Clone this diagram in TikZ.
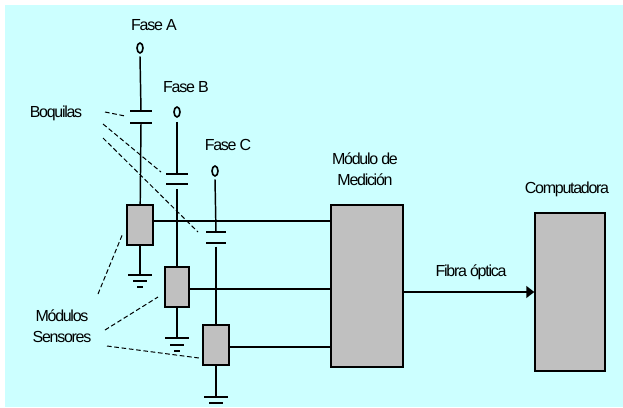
\documentclass[tikz,border=0pt]{standalone}
\usepackage{fontspec}
\setmainfont{Liberation Sans}
\usetikzlibrary{shapes.geometric, arrows.meta}
\definecolor{fondo}{RGB}{204,255,255}
\definecolor{modulo}{RGB}{192,192,192}

\begin{document}
\begin{tikzpicture}[
    x=0.75pt, y=-0.75pt,
    etiqueta/.style={inner sep=0pt, align=center, font=\fontsize{12}{16}\selectfont\addfontfeatures{LetterSpace=-8}},
    sensor/.style={rectangle, draw, line width=1.1pt, fill=modulo, inner sep=0pt, minimum width=19.5pt, minimum height=30pt},
    bloque/.style={sensor, minimum width=54pt, minimum height=121.5pt},
    terminal/.style={ellipse, draw, line width=1.2pt, inner sep=0pt, minimum width=4.5pt, minimum height=7.5pt},
    placa/.style={rectangle, fill=black, inner sep=0pt, minimum height=1.1pt, minimum width=16.5pt},
    wire/.style={line width=1.1pt},
    guia/.style={line width=0.75pt, dash pattern=on 3.5pt off 2pt},
    arrow/.style={-{Triangle[length=6pt, width=9pt]}, line width=1.1pt}
]
    \useasboundingbox (0,0) rectangle (623,407);
    \fill[fondo] (5,5) rectangle (623,407);

    % Modules
    \node[sensor] (sa) at (140,225) {};
    \node[sensor, minimum width=18pt] (sb) at (177,287) {};
    \node[sensor] (sc) at (216,345) {};
    \node[bloque] (med) at (367,286) {};
    \node[bloque, minimum width=52.5pt, minimum height=118.5pt] (comp) at (570,292) {};

    % Terminals
    \node[terminal] (ta) at (140,48) {};
    \node[terminal] (tb) at (177,112) {};
    \node[terminal] (tc) at (215,171) {};

    % Bushings
    \node[placa] (pa1) at (141,111) {};
    \node[placa] (pa2) at (141,123) {};
    \node[placa] (pb1) at (177,174) {};
    \node[placa] (pb2) at (177,184) {};
    \node[placa, minimum width=15pt] (pc1) at (216,232) {};
    \node[placa, minimum width=15pt] (pc2) at (216,243) {};

    % Grounds
    \node[placa, minimum width=18pt] (ga1) at (140,275) {};
    \node[placa, minimum width=11pt] (ga2) at (140,281) {};
    \node[placa, minimum width=4pt] (ga3) at (140,287) {};
    \node[placa, minimum width=18pt] (gb1) at (177,338) {};
    \node[placa, minimum width=11pt] (gb2) at (177,345) {};
    \node[placa, minimum width=5pt] (gb3) at (177,351) {};
    \node[placa, minimum width=18pt] (gc1) at (216,397) {};
    \node[placa, minimum width=10pt] (gc2) at (216,403) {};

    % Labels
    \node[etiqueta] (fasea) at (154,25) {Fase A};
    \node[etiqueta] (faseb) at (186,87) {Fase B};
    \node[etiqueta] (fasec) at (228,145) {Fase C};
    \node[etiqueta] (boq) at (56,113) {Boquilas};
    \node[etiqueta] (mods) at (62,326) {Módulos\\Sensores};
    \node[etiqueta] (medlab) at (365,169) {Módulo de\\Medición};
    \node[etiqueta] (complab) at (567,189) {Computadora};
    \node[etiqueta] (fibra) at (471,272) {Fibra óptica};

    % Free ends of the dashed lines
    \coordinate (b1) at (105,112);
    \coordinate (b1e) at (125,116);
    \coordinate (b2) at (103,124);
    \coordinate (b2e) at (161,172);
    \coordinate (b3) at (103,138);
    \coordinate (b3e) at (198,232);
    \coordinate (m1) at (98,294);
    \coordinate (m1e) at (123,233);
    \coordinate (m2) at (105,330);
    \coordinate (m2e) at (158,297);
    \coordinate (m3) at (107,346);
    \coordinate (m3e) at (199,358);

    % Connectors
    \draw[wire] ([yshift=-2pt]ta.south) -- (pa1);
    \draw[wire] (pa2) -- (sa);
    \draw[wire] (sa) -- (ga1);
    \draw[wire] ([yshift=-3pt]tb.south) -- (pb1);
    \draw[wire] ([yshift=-3pt]pb2.south) -- (sb);
    \draw[wire] (sb) -- (gb1);
    \draw[wire] ([yshift=-2pt]tc.south) -- (pc1);
    \draw[wire] ([yshift=-2pt]pc2.south) -- (sc);
    \draw[wire] (sc) -- (gc1);
    \draw[wire] ([yshift=3pt]sa.east) -- ([yshift=3pt]sa.east -| med.west);
    \draw[wire] ([yshift=-1.5pt]sb.east) -- ([yshift=-1.5pt]sb.east -| med.west);
    \draw[wire] ([yshift=-1.5pt]sc.east) -- ([yshift=-1.5pt]sc.east -| med.west);
    \draw[arrow] (med.east |- comp.west) -- (comp.west);

    % Dashed lines
    \draw[guia] (b1) -- (b1e);
    \draw[guia] (b2) -- (b2e);
    \draw[guia] (b3) -- (b3e);
    \draw[guia] (m1) -- (m1e);
    \draw[guia] (m2) -- (m2e);
    \draw[guia] (m3) -- (m3e);
\end{tikzpicture}
\end{document}
